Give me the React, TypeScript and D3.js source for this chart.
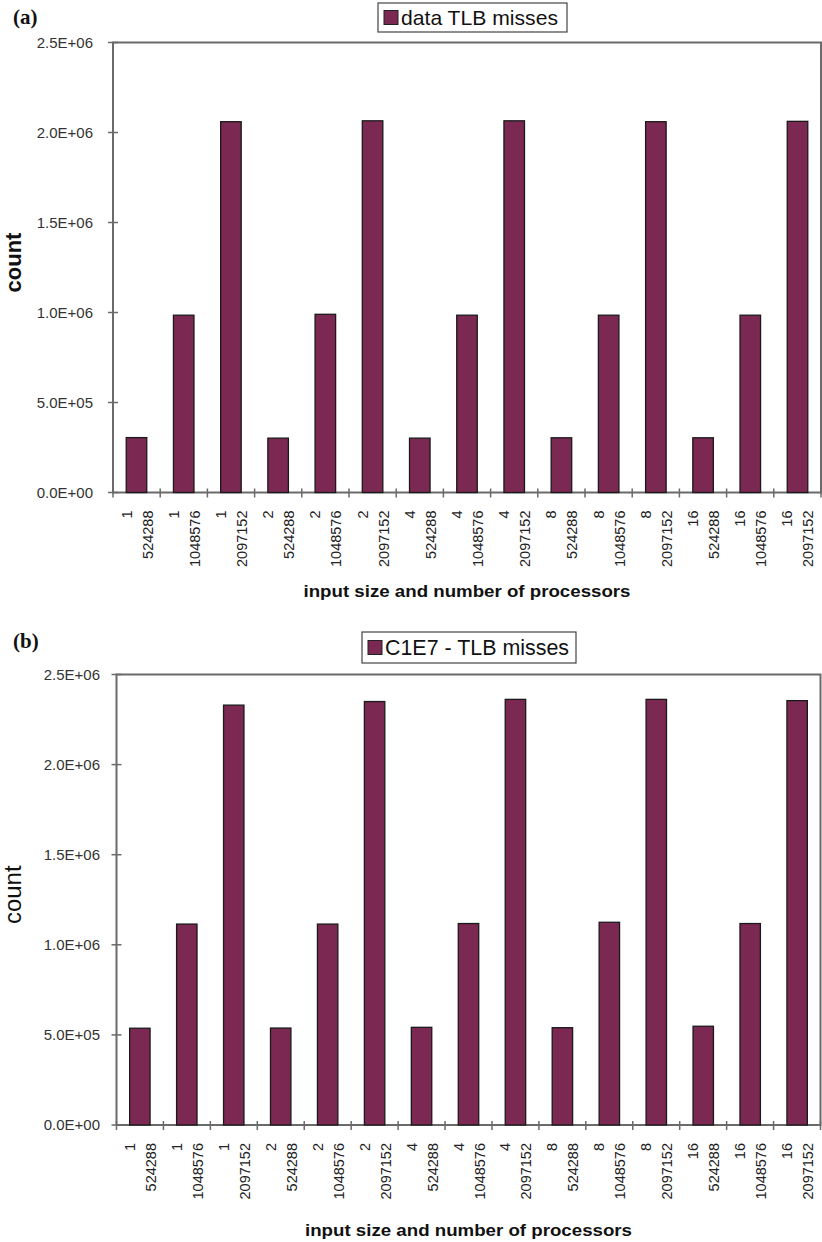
import React from "react";
import * as d3 from "d3";

const categories: string[][] = [
  ["1", "524288"], ["1", "1048576"], ["1", "2097152"],
  ["2", "524288"], ["2", "1048576"], ["2", "2097152"],
  ["4", "524288"], ["4", "1048576"], ["4", "2097152"],
  ["8", "524288"], ["8", "1048576"], ["8", "2097152"],
  ["16", "524288"], ["16", "1048576"], ["16", "2097152"],
];

const dataTLBMisses = [
  305000, 985000, 2060000,
  302000, 990000, 2065000,
  302000, 985000, 2065000,
  304000, 985000, 2060000,
  304000, 985000, 2062000,
];

const c1e7TLBMisses = [
  537000, 1115000, 2330000,
  538000, 1115000, 2350000,
  542000, 1118000, 2362000,
  540000, 1125000, 2362000,
  548000, 1118000, 2355000,
];

const yTicks = [0, 500000, 1000000, 1500000, 2000000, 2500000];
const yTickLabels = ["0.0E+00", "5.0E+05", "1.0E+06", "1.5E+06", "2.0E+06", "2.5E+06"];

const BAR = "#7b2852";
const AXIS = "#6a6a6a";
const FONT = "'Liberation Sans', Arial, sans-serif";

type PanelProps = {
  values: number[];
  left: number; right: number; top: number; bottom: number;
  tag: string; tagY: number;
  legend: string; legendX: number; legendY: number; legendW: number; legendH: number; legendFont: number; legendTextW: number;
  yLabelX: number; countBold: boolean; countSize: number; countX: number;
  titleY: number;
};

function Panel(p: PanelProps) {
  const x = d3.scaleBand<number>().domain(d3.range(categories.length)).range([p.left, p.right]).paddingInner(0.565).paddingOuter(0.28);
  const xs = d3.scaleBand<number>().domain(d3.range(categories.length)).range([p.left, p.right]);
  const y = d3.scaleLinear().domain([0, 2500000]).range([p.bottom, p.top]);
  const step = xs.step();
  const labelTop = p.bottom + 18;
  return (
    <g>
      <text x={13} y={p.tagY} fontFamily="'Liberation Serif', 'Times New Roman', serif" fontWeight="bold" fontSize={21} fill="#111">{p.tag}</text>
      {/* legend */}
      <rect x={p.legendX} y={p.legendY} width={p.legendW} height={p.legendH} fill="#fff" stroke="#444" strokeWidth={1.2} />
      <rect x={p.legendX + 6} y={p.legendY + p.legendH / 2 - 7} width={14} height={14} fill={BAR} stroke="#222" strokeWidth={1} />
      <text x={p.legendX + 23} y={p.legendY + p.legendH / 2 + p.legendFont * 0.36} fontFamily={FONT} fontSize={p.legendFont} textLength={p.legendTextW} lengthAdjust="spacingAndGlyphs" fill="#111">{p.legend}</text>
      {/* plot frame */}
      <rect x={p.left} y={p.top} width={p.right - p.left} height={p.bottom - p.top} fill="none" stroke={AXIS} strokeWidth={2} />
      {/* bars */}
      {p.values.map((v, i) => (
        <rect key={i} x={x(i)} y={y(v)} width={x.bandwidth()} height={p.bottom - y(v)} fill={BAR} stroke="#1a1a1a" strokeWidth={1.3} />
      ))}
      {/* y ticks */}
      {yTicks.map((t, i) => (
        <g key={i}>
          <line x1={p.left - 5} x2={p.left + 5} y1={y(t)} y2={y(t)} stroke={AXIS} strokeWidth={1.5} />
          <text x={p.yLabelX} y={y(t) + 5} textAnchor="end" fontFamily={FONT} fontSize={15} fill="#333">{yTickLabels[i]}</text>
        </g>
      ))}
      {/* x ticks */}
      {d3.range(categories.length + 1).map((i) => (
        <line key={i} x1={p.left + i * step} x2={p.left + i * step} y1={p.bottom - 4} y2={p.bottom + 5} stroke={AXIS} strokeWidth={1.5} />
      ))}
      {/* x labels */}
      {categories.map((c, i) => {
        const cx = (xs(i) as number) + step / 2;
        return (
          <g key={i}>
            <text transform={`translate(${cx - 5},${labelTop}) rotate(-90)`} textAnchor="end" fontFamily={FONT} fontSize={14.5} fill="#222">{c[0]}</text>
            <text transform={`translate(${cx + 16},${labelTop}) rotate(-90)`} textAnchor="end" fontFamily={FONT} fontSize={14.5} fill="#222">{c[1]}</text>
          </g>
        );
      })}
      {/* axis titles */}
      <text transform={`translate(${p.countX},${(p.top + p.bottom) / 2 - 5}) rotate(-90)`} textAnchor="middle" fontFamily={FONT} fontWeight={p.countBold ? "bold" : "normal"} fontSize={p.countSize} fill="#111">count</text>
      <text x={(p.left + p.right) / 2 - 0} y={p.titleY} textAnchor="middle" fontFamily={FONT} fontWeight="bold" fontSize={17} textLength={327} lengthAdjust="spacingAndGlyphs" fill="#111">input size and number of processors</text>
    </g>
  );
}

export default function App() {
  return (
    <svg width={822} height={1242} style={{ position: "absolute", left: 0, top: 0, background: "#fff" }}>
      <rect x={0} y={0} width={822} height={1242} fill="#fff" />
      <Panel values={dataTLBMisses} left={113} right={821} top={42.5} bottom={492.5}
        tag="(a)" tagY={24}
        legend="data TLB misses" legendX={378} legendY={3} legendW={189} legendH={29} legendFont={21} legendTextW={157}
        yLabelX={93} countBold={true} countSize={22} countX={21}
        titleY={597} />
      <Panel values={c1e7TLBMisses} left={116.5} right={820.5} top={674.5} bottom={1125}
        tag="(b)" tagY={648}
        legend="C1E7 - TLB misses" legendX={362} legendY={632} legendW={214} legendH={31} legendFont={22} legendTextW={184}
        yLabelX={100} countBold={false} countSize={24} countX={21}
        titleY={1236} />
    </svg>
  );
}
